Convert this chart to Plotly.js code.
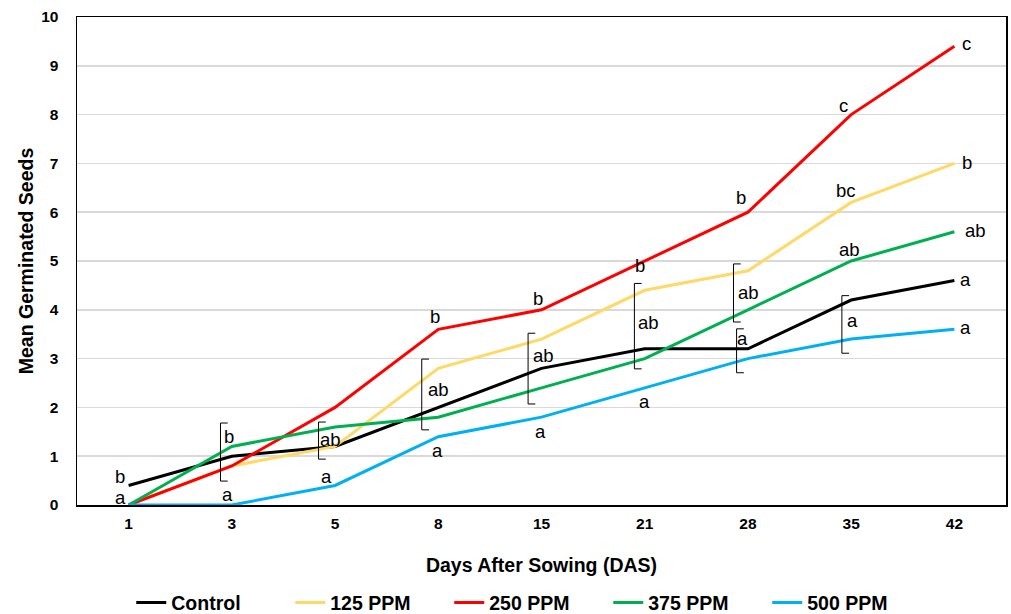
<!DOCTYPE html>
<html><head><meta charset="utf-8">
<script src="https://cdn.plot.ly/plotly-3.0.1.min.js"></script>
<style>html,body{margin:0;padding:0;background:#fff}#chart{width:1011px;height:614px}</style>
</head><body><div id="chart"></div>
<script>
var days = ['1','3','5','8','15','21','28','35','42'];
var seriesNames = ['Control','125 PPM','250 PPM','375 PPM','500 PPM'];
var control = [0.4,1.0,1.2,2.0,2.8,3.2,3.2,4.2,4.6];
var ppm125 = [0,0.8,1.2,2.8,3.4,4.4,4.8,6.2,7.0];
var ppm250 = [0,0.8,2.0,3.6,4.0,5.0,6.0,8.0,9.4];
var ppm375 = [0,1.2,1.6,1.8,2.4,3.0,4.0,5.0,5.6];
var ppm500 = [0,0,0.4,1.4,1.8,2.4,3.0,3.4,3.6];
var colors = ['#000000','#FFD966','#FF0000','#00B050','#00B0F0'];

// significance letters: [category index offset x, y, text]
var letters = [
  [-0.08,0.59,'b'],[-0.08,0.16,'a'],
  [0.97,1.41,'b'],[0.96,0.22,'a'],
  [1.96,1.35,'ab'],[1.92,0.58,'a'],
  [2.97,3.87,'b'],[3.00,2.36,'ab'],[2.99,1.11,'a'],
  [3.97,4.24,'b'],[4.02,3.07,'ab'],[3.99,1.50,'a'],
  [4.95,4.90,'b'],[5.04,3.73,'ab'],[5.00,2.12,'a'],
  [5.93,6.31,'b'],[6.01,4.35,'ab'],[5.95,3.42,'a'],
  [6.93,8.18,'c'],[6.95,6.44,'bc'],[6.98,5.23,'ab'],[7.01,3.78,'a'],
  [8.12,9.45,'c'],[8.12,7.02,'b'],[8.20,5.63,'ab'],[8.11,4.62,'a'],[8.11,3.64,'a']
];
// brackets: [x, yTop, yBottom]
var brackets = [
  [0.89,1.68,0.49],[1.84,1.70,0.94],[2.84,2.99,1.54],[3.87,3.52,2.07],
  [4.90,4.54,2.79],[5.86,4.94,3.75],[5.89,3.61,2.71],[6.91,4.29,3.11]
];

var data = [control,ppm125,ppm250,ppm375,ppm500];
var traces = data.map(function(v,i){
  return {x:days,y:v,type:'scatter',mode:'lines',name:seriesNames[i],
    line:{color:colors[i],width:3}};
});
var annotations = letters.map(function(l){
  return {x:l[0],y:l[1],xref:'x',yref:'y',text:l[2],showarrow:false,
    font:{family:'Liberation Sans, Arial, sans-serif',size:18.5,color:'#000'}};
});
var shapes = [];
var tk = 0.07;
brackets.forEach(function(b){
  var st = {color:'#000',width:1};
  shapes.push({type:'line',xref:'x',yref:'y',x0:b[0],x1:b[0],y0:b[1],y1:b[2],line:st});
  shapes.push({type:'line',xref:'x',yref:'y',x0:b[0],x1:b[0]+tk,y0:b[1],y1:b[1],line:st});
  shapes.push({type:'line',xref:'x',yref:'y',x0:b[0],x1:b[0]+tk,y0:b[2],y1:b[2],line:st});
});

var layout = {
  width:1011,height:614,
  margin:{l:77,r:5,t:17,b:109},
  paper_bgcolor:'#fff',plot_bgcolor:'#fff',
  font:{family:'Liberation Sans, Arial, sans-serif',color:'#000'},
  showlegend:true,
  legend:{orientation:'h',x:0.523,xref:'container',xanchor:'center',y:0.018,yref:'container',yanchor:'middle',
    font:{size:19.5,family:'Liberation Sans, Arial, sans-serif',weight:'bold'},
    entrywidth:114,entrywidthmode:'pixels',tracegroupgap:0},
  xaxis:{type:'category',range:[-0.5,8.5],showgrid:false,zeroline:false,
    showline:true,linecolor:'#000',linewidth:1.5,mirror:true,ticks:'',
    tickfont:{size:15.5,weight:'bold'},ticklabelstandoff:4,
    title:{text:'Days After Sowing (DAS)',font:{size:19.5,weight:'bold'},standoff:27}},
  yaxis:{range:[0,10],dtick:1,showgrid:true,gridcolor:'#d9d9d9',gridwidth:1.5,
    zeroline:false,showline:true,linecolor:'#000',linewidth:1.5,mirror:true,ticks:'',
    tickfont:{size:15.5,weight:'bold'},ticklabelstandoff:14,
    title:{text:'Mean Germinated Seeds',font:{size:19.5,weight:'bold'},standoff:2}},
  annotations:annotations,
  shapes:shapes
};
Plotly.newPlot('chart',traces,layout,{displayModeBar:false,staticPlot:true});
</script></body></html>
